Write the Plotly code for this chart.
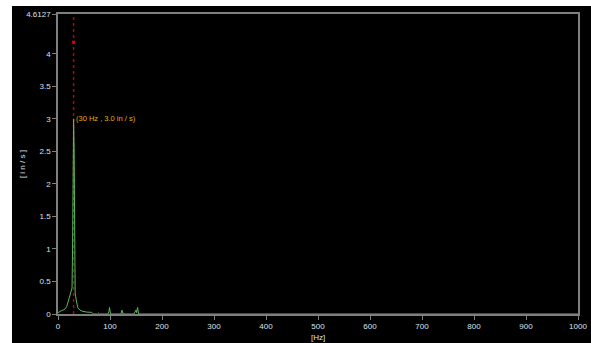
import plotly.graph_objects as go

# Vibration velocity spectrum
freq_hz = [0, 3, 6, 10, 14, 17, 20, 23, 25, 27, 28, 29, 30, 31, 32, 33, 35, 38, 42, 48, 55, 65,
           68, 76, 78, 80, 96, 98, 99, 100, 101, 121, 123, 125, 146, 148, 150, 151, 153, 155, 1000]
velocity_in_s = [0.02, 0.04, 0.05, 0.06, 0.08, 0.12, 0.2, 0.3, 0.36, 0.4, 1.0, 2.4, 3.0, 2.55, 0.6,
                 0.32, 0.22, 0.1, 0.06, 0.04, 0.03, 0.025, 0.0, 0.0, 0.015, 0.0, 0.0, 0.04, 0.1,
                 0.06, 0.0, 0.0, 0.06, 0.0, 0.0, 0.03, 0.06, 0.02, 0.1, 0.0, 0.0]

# Cursor reading
cursor_hz = 30
cursor_value = 3.0
cursor_handle = 4.18
y_max = 4.6127

y_ticks = [0, 0.5, 1, 1.5, 2, 2.5, 3, 3.5, 4, y_max]
y_ticktext = ["0", "0.5", "1", "1.5", "2", "2.5", "3", "3.5", "4", "4.6127"]
x_ticks = [0, 100, 200, 300, 400, 500, 600, 700, 800, 900, 1000]

AXIS = "#7f7f7f"
FONT_FAMILY = "Liberation Sans Narrow, Liberation Sans, Arial"
TICKFONT = dict(family=FONT_FAMILY, size=8, color="#dde3ea")

fig = go.Figure()

fig.add_trace(go.Scatter(
    x=[cursor_hz, cursor_hz], y=[0, 4.58], mode="lines",
    line=dict(color="#c00000", width=1.5, dash="dot"), hoverinfo="skip", showlegend=False))

fig.add_trace(go.Scatter(
    x=freq_hz, y=velocity_in_s, mode="lines",
    line=dict(color="#5cb85c", width=1), showlegend=False))

fig.add_trace(go.Scatter(
    x=[cursor_hz], y=[cursor_handle], mode="markers",
    marker=dict(color="#e00000", size=3, symbol="square"), showlegend=False))

fig.add_annotation(
    x=cursor_hz, y=cursor_value, xref="x", yref="y",
    text=f"({cursor_hz} Hz , {cursor_value:.1f} in / s)",
    showarrow=False, xanchor="left", yanchor="middle", xshift=0,
    font=dict(family=FONT_FAMILY, size=7.5, color="#e0b000"))

fig.add_annotation(
    x=-0.069, y=0.5, xref="paper", yref="paper", text="[ i n / s ]",
    showarrow=False, textangle=-90, xanchor="center", yanchor="middle",
    font=dict(family=FONT_FAMILY, size=8, color="#dde3ea"))

fig.add_annotation(
    x=0.5, y=-0.077, xref="paper", yref="paper", text="[Hz]",
    showarrow=False, xanchor="center", yanchor="middle",
    font=dict(family=FONT_FAMILY, size=8, color="#dde3ea"))

# White margins around the dark panel
fig.add_shape(type="rect", xref="paper", yref="paper", x0=-0.12, x1=-0.0885, y0=-0.2, y1=1.1,
              fillcolor="white", line_width=0, layer="below")
fig.add_shape(type="rect", xref="paper", yref="paper", x0=-0.12, x1=1.1, y0=1.0267, y1=1.1,
              fillcolor="white", line_width=0, layer="below")

fig.update_layout(
    width=591, height=343, autosize=False,
    margin=dict(l=58, r=13, t=14, b=29, pad=0),
    paper_bgcolor="black", plot_bgcolor="black",
    xaxis=dict(range=[0, 1000], tickvals=x_ticks, showgrid=False, zeroline=False,
               showline=True, linecolor=AXIS, linewidth=1.5, mirror=True, automargin=False,
               ticks="outside", ticklen=4, tickcolor=AXIS, tickwidth=1,
               tickfont=TICKFONT),
    yaxis=dict(range=[0, y_max], tickvals=y_ticks, ticktext=y_ticktext, showgrid=False,
               zeroline=False, showline=True, linecolor=AXIS, linewidth=1.5, mirror=True,
               automargin=False, ticks="outside", ticklen=4, tickcolor=AXIS, tickwidth=1,
               tickfont=TICKFONT),
)

fig.write_html("out.html")
